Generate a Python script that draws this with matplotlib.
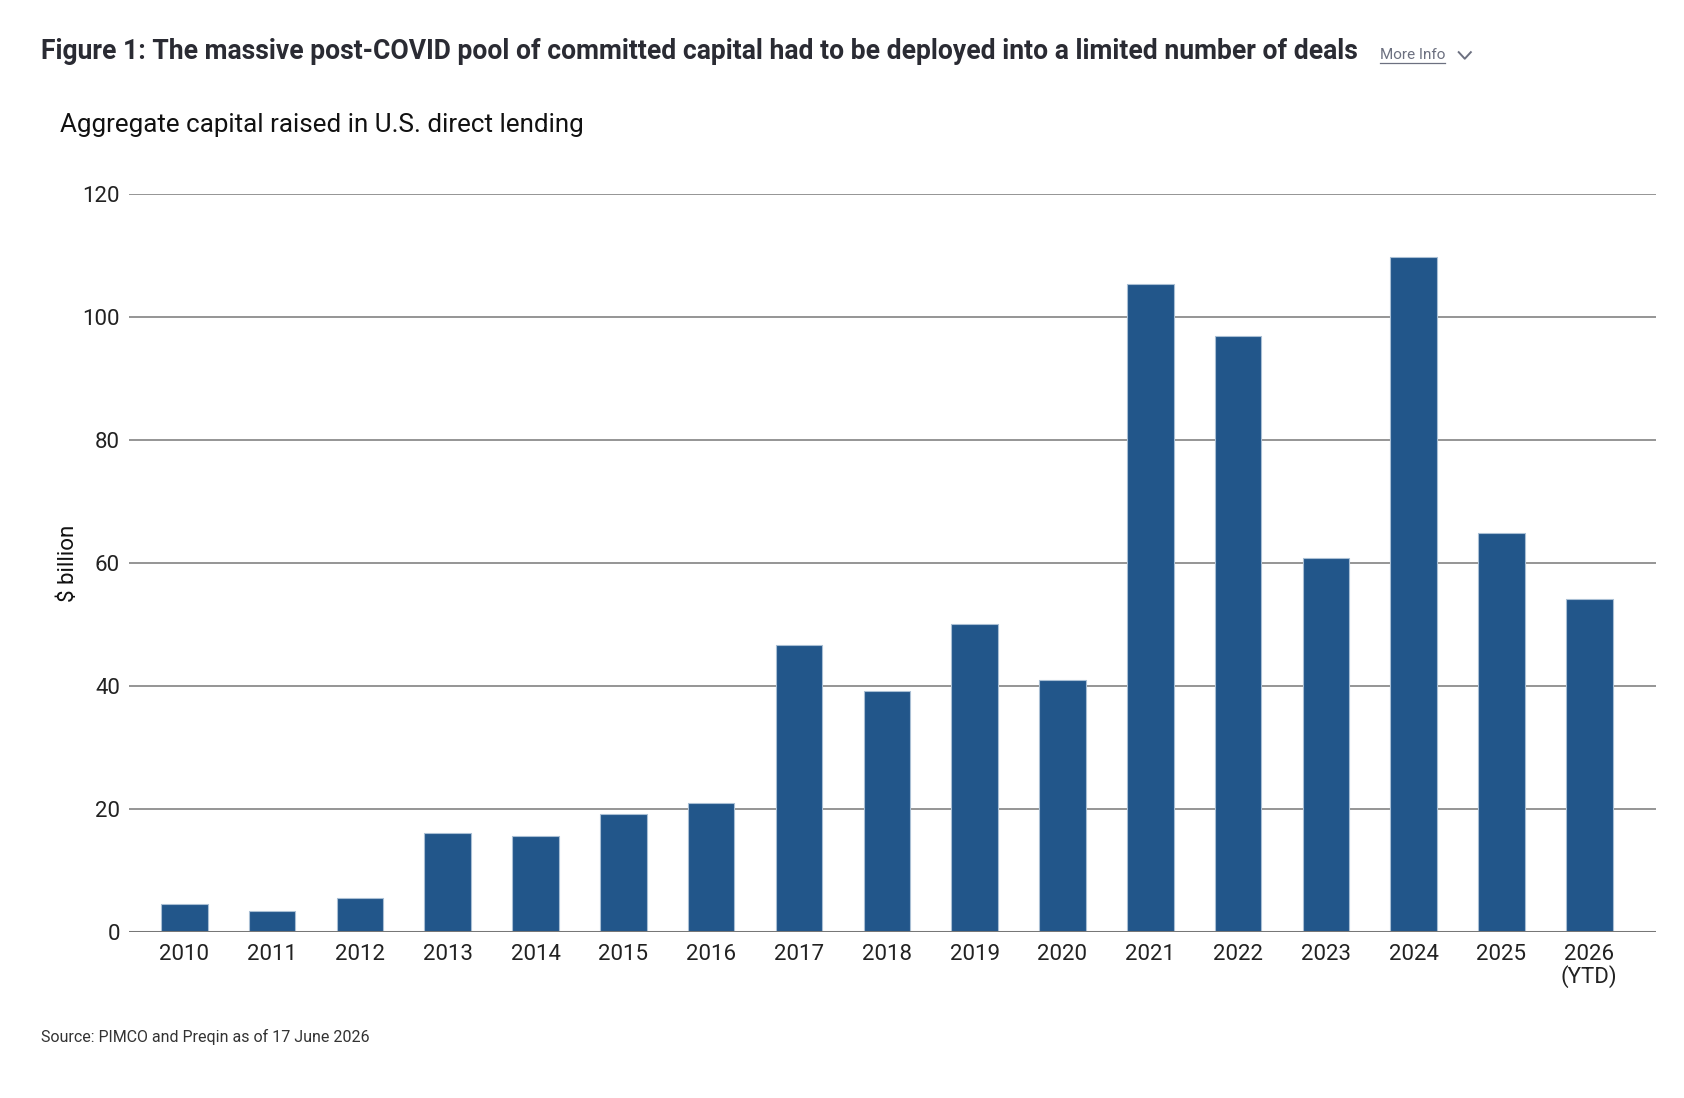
import matplotlib
matplotlib.use("Agg")
import matplotlib.pyplot as plt
from matplotlib.lines import Line2D

years = ['2010', '2011', '2012', '2013', '2014', '2015', '2016', '2017', '2018',
         '2019', '2020', '2021', '2022', '2023', '2024', '2025', '2026\n(YTD)']
capital = [4.6, 3.4, 5.6, 16.1, 15.6, 19.2, 21.0, 46.6, 39.2,
           50.0, 40.9, 105.3, 96.9, 60.8, 109.8, 64.9, 54.2]
yticks = [0, 20, 40, 60, 80, 100, 120]

title = "Figure 1: The massive post-COVID pool of committed capital had to be deployed into a limited number of deals"
subtitle = "Aggregate capital raised in U.S. direct lending"
source = "Source: PIMCO and Preqin as of 17 June 2026"

plt.rcParams['font.family'] = ['Roboto', 'DejaVu Sans']

fig = plt.figure(figsize=(16.84, 10.98), dpi=100)
ax = fig.add_axes([0.0766, 0.1512, 0.9068, 0.6721])

x = range(len(years))
ax.bar(x, capital, width=0.53, color='#22568a', edgecolor='#a9bfd4', linewidth=0.8, zorder=3)

ax.set_ylim(0, 120)
ax.set_xlim(-0.63, len(years) - 1 + 0.76)
ax.set_yticks(yticks)
ax.set_xticks(list(x))
ax.set_xticklabels(years, fontsize=16, color='#222222', linespacing=1.0)
ax.set_yticklabels([str(v) for v in yticks], fontsize=16, color='#222222')
ax.tick_params(axis='both', length=0)
ax.tick_params(axis='x', pad=9)
ax.tick_params(axis='y', pad=6.5)

for v in yticks[1:]:
    ax.axhline(v, color='#8c8c8c', linewidth=1.3, zorder=1)
ax.axhline(0, color='#777777', linewidth=2.2, zorder=4)

for s in ax.spines.values():
    s.set_visible(False)

ax.set_ylabel('$ billion', fontsize=16, color='#111111')
ax.yaxis.set_label_coords(-0.0325, 0.5)

fig.text(0.0243, 0.946, title, fontsize=19.1, fontweight='bold', color='#2a2b33', va='baseline')
more = fig.text(0.8195, 0.946, 'More Info', fontsize=11, color='#6c7080', va='baseline')
fig.text(0.0356, 0.886, subtitle, fontsize=18.7, color='#111111', va='center')
fig.text(0.0243, 0.0555, source, fontsize=11.5, color='#333333', va='center')

# underline and chevron next to "More Info"
fig.canvas.draw()
bb = more.get_window_extent().transformed(fig.transFigure.inverted())
uy = 0.946 - 0.0035
fig.add_artist(Line2D([bb.x0, bb.x1], [uy, uy], transform=fig.transFigure, color='#6c7080', linewidth=0.9))
cx = bb.x1 + 0.0115
fig.add_artist(Line2D([cx - 0.0036, cx, cx + 0.0036], [0.9525, 0.9465, 0.9525],
                      transform=fig.transFigure, color='#6c7080', linewidth=1.4))

fig.savefig('out.png', dpi=100)
